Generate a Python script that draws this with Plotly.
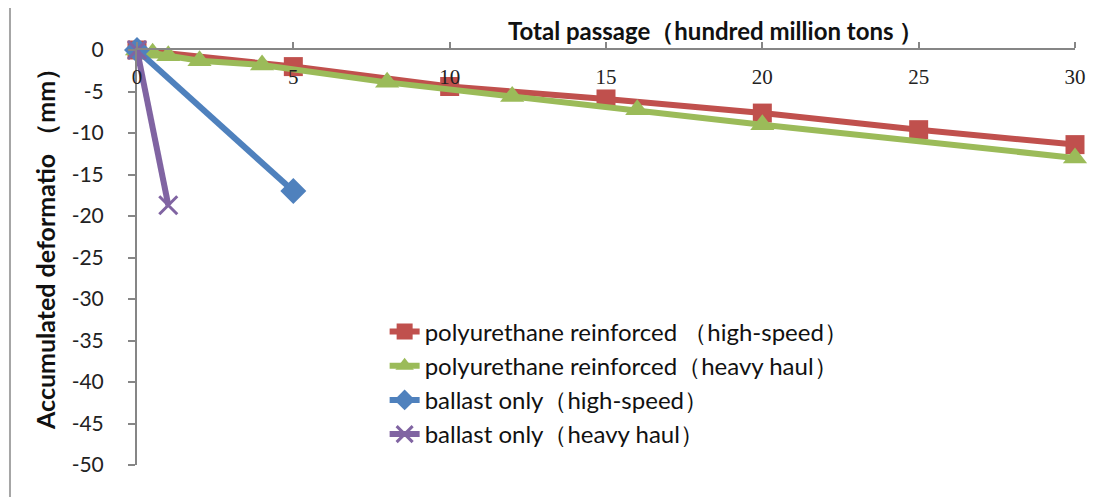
import plotly.graph_objects as go

# values
pu_hs_x = [0, 5, 10, 15, 20, 25, 30]
pu_hs_y = [0, -2.0, -4.4, -5.9, -7.6, -9.6, -11.4]

pu_hh_x = [0, 0.5, 1, 2, 4, 8, 12, 16, 20, 30]
pu_hh_y = [0, -0.4, -0.7, -1.3, -1.8, -3.9, -5.6, -7.2, -9.0, -13.0]

ballast_hs_x = [0, 5]
ballast_hs_y = [0, -17.0]

ballast_hh_x = [0, 1]
ballast_hh_y = [0, -18.7]

names = ['polyurethane reinforced （high-speed）',
         'polyurethane reinforced（heavy haul）',
         'ballast only（high-speed）',
         'ballast only（heavy haul）']

x_ticks = [0, 5, 10, 15, 20, 25, 30]
y_ticks = [0, -5, -10, -15, -20, -25, -30, -35, -40, -45, -50]

fig = go.Figure()

fig.add_trace(go.Scatter(
    x=pu_hs_x, y=pu_hs_y, name=names[0], mode='lines+markers',
    line=dict(color='#C0504D', width=6),
    marker=dict(symbol='square', size=19, color='#C0504D'),
    cliponaxis=False))
fig.add_trace(go.Scatter(
    x=pu_hh_x, y=pu_hh_y, name=names[1], mode='lines+markers',
    line=dict(color='#9BBB59', width=6),
    marker=dict(symbol='triangle-up', size=21, color='#9BBB59'),
    cliponaxis=False))
fig.add_trace(go.Scatter(
    x=ballast_hs_x, y=ballast_hs_y, name=names[2], mode='lines+markers',
    line=dict(color='#4F81BD', width=6),
    marker=dict(symbol='diamond', size=20, color='#4F81BD'),
    cliponaxis=False))
fig.add_trace(go.Scatter(
    x=ballast_hh_x, y=ballast_hh_y, name=names[3], mode='lines+markers',
    line=dict(color='#8064A2', width=6),
    marker=dict(symbol='x-thin', size=18, color='#8064A2',
                line=dict(color='#8064A2', width=3)),
    cliponaxis=False))

# x axis sits on top at y=0, its labels hang just under the line
fig.update_xaxes(
    side='top', range=[0, 30], tickvals=x_ticks,
    ticktext=[str(v) for v in x_ticks],
    ticks='outside', ticklen=6, tickwidth=2, tickcolor='#868686',
    ticklabelposition='inside', ticklabeloverflow='allow',
    ticklabelstandoff=21,
    showline=True, linecolor='#868686', linewidth=2,
    showgrid=False, zeroline=False, automargin=False,
    tickfont=dict(family='Liberation Serif', size=21, color='#222'))

fig.update_yaxes(
    range=[-50, 0], tickvals=y_ticks,
    ticktext=[str(v) for v in y_ticks],
    ticks='outside', ticklen=7, tickwidth=2, tickcolor='#868686',
    ticklabelstandoff=20, ticklabeloverflow='allow',
    showline=True, linecolor='#868686', linewidth=2,
    showgrid=False, zeroline=False, automargin=False,
    tickfont=dict(family='Lato', size=21, color='#222'))

# axis titles
fig.add_annotation(
    text='<b>Total passage（hundred million tons ）</b>',
    xref='paper', yref='paper', x=0.617, y=1, yshift=20,
    xanchor='center', yanchor='middle', showarrow=False,
    font=dict(family='Lato', size=24, color='#111'))
fig.add_annotation(
    text='<b>Accumulated deformatio （mm）</b>',
    xref='paper', yref='paper', x=0, xshift=-92, y=0.535,
    xanchor='center', yanchor='middle', textangle=-90, showarrow=False,
    font=dict(family='Lato', size=25, color='#111'))

# outer chart border (only left and top edges are visible in the crop)
fig.add_shape(type='rect', xref='paper', yref='paper',
              x0=-0.1354, x1=1.2, y0=-0.3, y1=1.108,
              line=dict(color='#A6A6A6', width=2), layer='below')

# page body adds an 8px offset, so the figure is 8px smaller
fig.update_layout(
    width=1090, height=489,
    margin=dict(l=129, r=23, t=42, b=32, autoexpand=False),
    paper_bgcolor='white', plot_bgcolor='white',
    showlegend=True,
    legend=dict(x=0.264, y=0.375, xanchor='left', yanchor='top',
                bgcolor='rgba(0,0,0,0)', tracegroupgap=0,
                font=dict(family='Lato', size=24, color='#111')),
)

fig.write_html("out.html")
